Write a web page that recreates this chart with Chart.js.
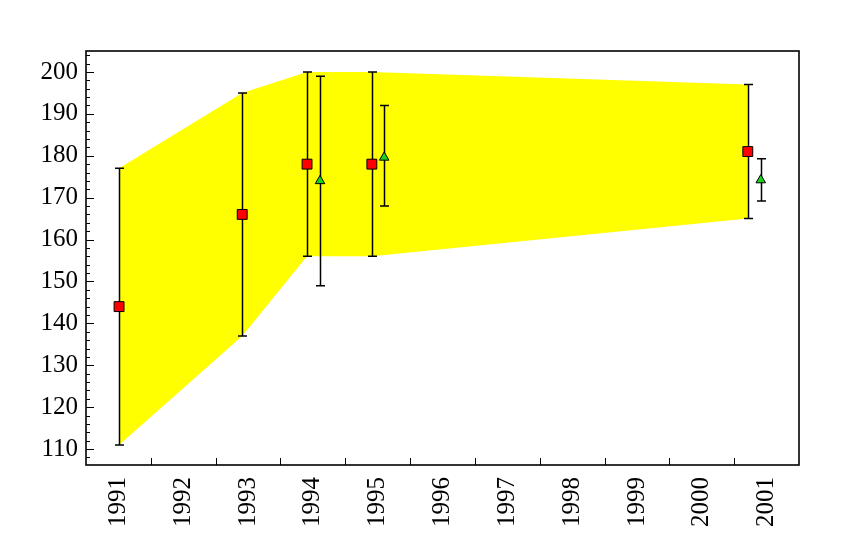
<!DOCTYPE html>
<html>
<head>
<meta charset="utf-8">
<script src="https://cdn.jsdelivr.net/npm/chart.js@4/dist/chart.umd.min.js"></script>
<style>
  html, body { margin: 0; padding: 0; background: #fff; }
  .warm { font-family: 'Liberation Serif'; position: absolute; left: -1000px; top: 0; }
</style>
</head>
<body>
<span class="warm">1990 warm</span>
<canvas id="chart" width="857" height="543"></canvas>
<script>
// tick labels
var yearLabels = [1991, 1992, 1993, 1994, 1995, 1996, 1997, 1998, 1999, 2000, 2001];
var yTickValues = [110, 120, 130, 140, 150, 160, 170, 180, 190, 200];

// red squares
var redYears = [1991.01, 1992.91, 1993.91, 1994.91, 2000.71];
var redValues = [144, 166, 178, 178, 181];
var redHigh = [177, 195, 200, 200, 197];
var redLow = [111, 137, 156, 156, 165];

// green triangles
var greenYears = [1994.11, 1995.10, 2000.91];
var greenValues = [174, 179.6, 174.2];
var greenHigh = [199, 192, 179.3];
var greenLow = [149, 168, 169.2];

var errorSets = {
	red: { x: redYears, hi: redHigh, lo: redLow },
	green: { x: greenYears, hi: greenHigh, lo: greenLow }
};

var serif = "'Liberation Serif', 'Times New Roman', Times, serif";

function pts(xs, ys) {
	return xs.map(function(x, i) { return { x: x, y: ys[i] }; });
}

var errorBarPlugin = {
	id: 'errorBars',
	beforeDatasetDraw: function(chart, args) {
		var ds = chart.data.datasets[args.index];
		if (!ds.errorSet) return;
		var set = errorSets[ds.errorSet];
		var xs = chart.scales.x, ys = chart.scales.y;
		var ctx = chart.ctx;
		ctx.save();
		ctx.strokeStyle = '#000';
		ctx.lineWidth = 1.5;
		set.x.forEach(function(v, i) {
			var px = Math.round(xs.getPixelForValue(v)) + 0.5;
			var top = ys.getPixelForValue(set.hi[i]);
			var bot = ys.getPixelForValue(set.lo[i]);
			ctx.beginPath();
			ctx.moveTo(px, top); ctx.lineTo(px, bot);
			ctx.moveTo(px - 4.5, top); ctx.lineTo(px + 4.5, top);
			ctx.moveTo(px - 4.5, bot); ctx.lineTo(px + 4.5, bot);
			ctx.stroke();
		});
		ctx.restore();
	}
};

var framePlugin = {
	id: 'frame',
	afterDatasetsDraw: function(chart) {
		var a = chart.chartArea, ctx = chart.ctx;
		var xs = chart.scales.x, ys = chart.scales.y;
		ctx.save();
		ctx.strokeStyle = '#000';
		ctx.lineWidth = 1;
		ctx.beginPath();
		// bin edge ticks on x axis
		for (var k = 0; k < yearLabels.length - 1; k++) {
			var px = Math.round(xs.getPixelForValue(yearLabels[k] + 0.5)) + 0.5;
			ctx.moveTo(px, a.bottom);
			ctx.lineTo(px, a.bottom - 7);
		}
		// y ticks, major every 10, minor every 2
		for (var v = 108; v <= 204; v += 2) {
			var py = Math.round(ys.getPixelForValue(v)) + 0.5;
			var len = (v % 10 === 0) ? 8 : 4;
			ctx.moveTo(a.left, py);
			ctx.lineTo(a.left + len, py);
		}
		ctx.stroke();
		ctx.lineWidth = 1.6;
		ctx.strokeRect(a.left, a.top, a.right - a.left, a.bottom - a.top);
		ctx.restore();
	}
};

var config = {
	type: 'scatter',
	data: {
		datasets: [{
			label: 'red',
			data: pts(redYears, redValues),
			errorSet: 'red',
			pointStyle: 'rect',
			pointRadius: 7,
			backgroundColor: '#ff0000',
			borderColor: '#000',
			borderWidth: 1,
			order: 1
		}, {
			label: 'green',
			data: pts(greenYears, greenValues),
			errorSet: 'green',
			pointStyle: 'triangle',
			pointRadius: 5.5,
			backgroundColor: '#1fd01f',
			borderColor: '#000',
			borderWidth: 1,
			order: 1
		}, {
			type: 'line',
			label: 'band high',
			data: pts(redYears, redHigh),
			showLine: true,
			borderWidth: 0,
			borderColor: 'rgba(0,0,0,0)',
			pointRadius: 0,
			tension: 0,
			backgroundColor: '#ffff00',
			fill: '+1',
			order: 3
		}, {
			type: 'line',
			label: 'band low',
			data: pts(redYears, redLow),
			showLine: true,
			borderWidth: 0,
			borderColor: 'rgba(0,0,0,0)',
			pointRadius: 0,
			tension: 0,
			backgroundColor: '#ffff00',
			fill: false,
			order: 3
		}]
	},
	options: {
		responsive: false,
		animation: false,
		devicePixelRatio: 1,
		layout: { padding: { top: 51, right: 58, left: 0, bottom: 0 } },
		plugins: {
			legend: { display: false },
			tooltip: { enabled: false },
			title: { display: false }
		},
		scales: {
			x: {
				type: 'linear',
				min: 1990.5,
				max: 2001.5,
				afterBuildTicks: function(scale) {
					scale.ticks = yearLabels.map(function(v) { return { value: v }; });
				},
				afterFit: function(scale) { scale.height = 78; },
				grid: { display: false, drawTicks: false },
				border: { display: false },
				ticks: {
					autoSkip: false,
					minRotation: 90,
					maxRotation: 90,
					padding: 12,
					color: '#000',
					font: { family: serif, size: 25 },
					callback: function(v) { return String(v); }
				}
			},
			y: {
				type: 'linear',
				min: 106.2,
				max: 205,
				afterBuildTicks: function(scale) {
					scale.ticks = yTickValues.map(function(v) { return { value: v }; });
				},
				afterFit: function(scale) { scale.width = 86; },
				grid: { display: false, drawTicks: false },
				border: { display: false },
				ticks: {
					padding: 8,
					color: '#000',
					font: { family: serif, size: 25 }
				}
			}
		}
	},
	plugins: [errorBarPlugin, framePlugin]
};

window.onload = function() {
	window.myChart = new Chart(document.getElementById('chart'), config);
};
</script>
</body>
</html>
